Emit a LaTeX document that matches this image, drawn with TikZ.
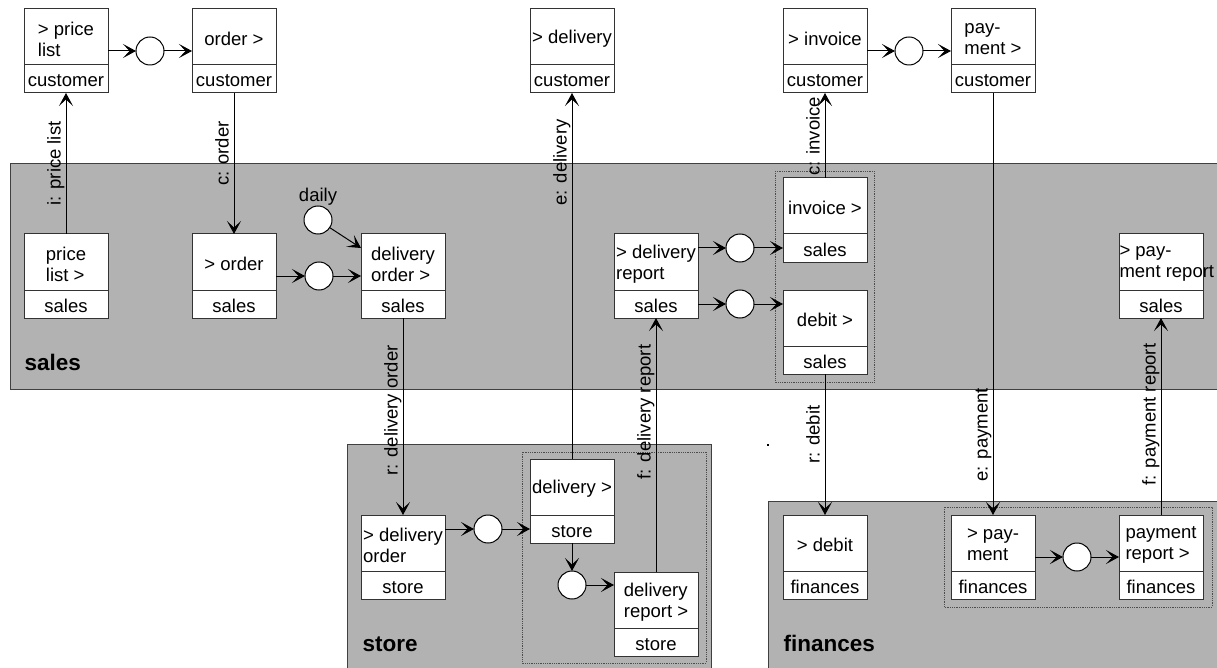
\documentclass[tikz,border=0pt]{standalone}
\usepackage{fontspec}
\setmainfont{Liberation Sans}
\usetikzlibrary{arrows.meta}

% a work step: box with a title part and a role part below a divider
\newcommand\workbox[6][]{%
  \node[wbox] (#2) at (#3,#4) {};
  \draw[divider] ([yshift=-56pt]#2.north west) -- ([yshift=-56pt]#2.north east);
  \node[toptext,#1] at ([yshift=-30pt]#2.north) {#5};
  \node[roletext] at ([yshift=6pt]#2.south) {#6};
}

\begin{document}
\begin{tikzpicture}[x=1pt,y=-1pt,
  font=\fontsize{18.5pt}{21pt}\selectfont,
  line width=1pt,
  lane/.style={fill=black!30, draw=none},
  laneedge/.style={draw=black!75, line width=1pt},
  lanename/.style={font=\fontsize{22.5pt}{26pt}\selectfont\bfseries, anchor=base west, inner sep=0pt},
  grp/.style={draw=black!70, densely dotted, line width=0.8pt},
  wbox/.style={draw=black!80, fill=white, minimum width=84pt, minimum height=84pt,
    inner sep=0pt, outer sep=0pt, anchor=north west},
  divider/.style={draw=black!80},
  toptext/.style={align=left, inner sep=0pt},
  roletext/.style={anchor=base, inner sep=0pt},
  state/.style={circle, draw=black, fill=white, minimum size=28pt, inner sep=0pt, outer sep=0pt},
  flow/.style={draw=black, -{Stealth[length=13pt,width=14pt,inset=6.5pt]}},
  lab/.style={rotate=90, anchor=south, inner sep=1pt, text depth=4pt}
]
\useasboundingbox (0,0) rectangle (1217,668);

% swimlanes
\fill[lane] (10,164) rectangle (1217,389);
\draw[laneedge] (1217,164) -- (10,164) -- (10,389) -- (1217,389);
\node[lanename] (salesname) at (24,370) {sales};

\fill[lane] (347,444) rectangle (711,668);
\draw[laneedge] (347,668) -- (347,444) -- (711,444) -- (711,668);
\node[lanename] (storename) at (362,651) {store};

\fill[lane] (768,501) rectangle (1217,668);
\draw[laneedge] (768,668) -- (768,501) -- (1217,501);
\node[lanename] (finname) at (783,651) {finances};

\fill[black] (767,444) rectangle (769,446);

% groups of steps
\draw[grp] (775,171) rectangle (874,382);
\draw[grp] (522,452) rectangle (706,663);
\draw[grp] (944,507) rectangle (1212,607);

% customer steps
\workbox{plc}{24}{9}{> price\\list}{customer}
\workbox{ordc}{192}{9}{order >}{customer}
\workbox{dlvc}{530}{9}{> delivery}{customer}
\workbox{invc}{783}{9}{> invoice}{customer}
\workbox{payc}{951}{9}{pay-\\ment >}{customer}

% sales steps
\workbox{pls}{24}{234}{price\\list >}{sales}
\workbox{ords}{192}{234}{> order}{sales}
\workbox{dords}{361}{234}{delivery\\order >}{sales}
\workbox{dreps}{614}{234}{> delivery\\report}{sales}
\workbox{invs}{783}{178}{invoice >}{sales}
\workbox{debs}{783}{290}{debit >}{sales}
\workbox[anchor=west, xshift=-42pt]{preps}{1119}{234}{> pay-\\ment report}{sales}

% store steps
\workbox{dordt}{361}{515}{> delivery\\order}{store}
\workbox{dlvt}{530}{459}{delivery >}{store}
\workbox{drept}{614}{572}{delivery\\report >}{store}

% finance steps
\workbox{debf}{783}{515}{> debit}{finances}
\workbox{payf}{951}{515}{> pay-\\ment}{finances}
\workbox{prepf}{1119}{515}{payment\\report >}{finances}

% states
\node[state] (s1) at (150,51) {};
\node[state] (s2) at (319,276) {};
\node[state] (daily) at (318,220) {};
\node[anchor=south, inner sep=0pt] (dailytxt) at (daily.north) {daily};
\node[state] (s3) at (488,529) {};
\node[state] (s4) at (572,585) {};
\node[state] (s5) at (740,248) {};
\node[state] (s6) at (740,304) {};
\node[state] (s7) at (909,51) {};
\node[state] (s8) at (1077,557) {};

% flows
\draw[flow] (pls.north) -- node[lab,pos=0.5]{i: price list} (plc.south);
\draw[flow] (plc.east) -- (s1);
\draw[flow] (s1) -- (ordc.west);
\draw[flow] (ordc.south) -- node[lab,pos=0.43]{c: order} (ords.north);
\draw[flow] (ords.east) -- (s2);
\draw[flow] (s2) -- (dords.west);
\draw[flow] (daily) -- ([yshift=28pt]dords.west);
\draw[flow] (dords.south) -- node[lab,pos=0.47]{r: delivery order} (dordt.north);
\draw[flow] (dordt.east |- s3) -- (s3);
\draw[flow] (s3) -- (dlvt.west |- s3);
\draw[flow] (dlvt.south) -- (s4);
\draw[flow] (s4) -- (drept.west |- s4);
\draw[flow] (dlvt.north) -- node[lab,pos=0.81]{e: delivery} (dlvc.south);
\draw[flow] (drept.north) -- node[lab,pos=0.63]{f: delivery report} (dreps.south);
\draw[flow] (dreps.east |- s5) -- (s5);
\draw[flow] (s5) -- (invs.west |- s5);
\draw[flow] (dreps.east |- s6) -- (s6);
\draw[flow] (s6) -- (debs.west |- s6);
\draw[flow] (invs.north) -- node[lab,pos=0.49]{c: invoice} (invc.south);
\draw[flow] (invc.east) -- (s7);
\draw[flow] (s7) -- (payc.west);
\draw[flow] (payc.south) -- node[lab,pos=0.81]{e: payment} (payf.north);
\draw[flow] (debs.south) -- node[lab,pos=0.43]{r: debit} (debf.north);
\draw[flow] (payf.east) -- (s8);
\draw[flow] (s8) -- (prepf.west);
\draw[flow] (prepf.north) -- node[lab,pos=0.51]{f: payment report} (preps.south);
\end{tikzpicture}
\end{document}
